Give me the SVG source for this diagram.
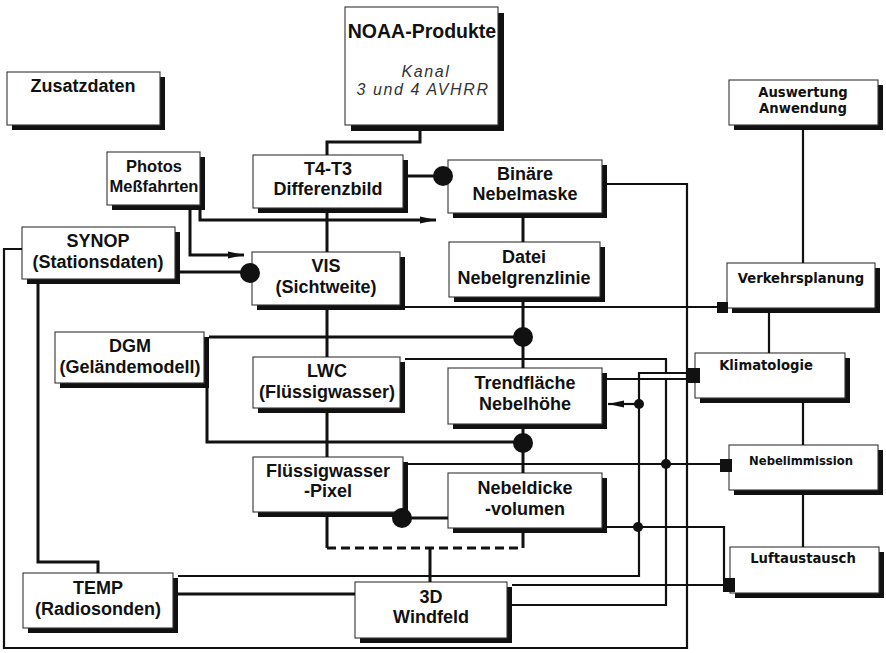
<svg xmlns="http://www.w3.org/2000/svg" width="886" height="653" viewBox="0 0 886 653">
  <style>
    .sh { fill: #111; }
    .bx { fill: #fff; stroke: #333; stroke-width: 1.1; }
    .m { font-family: "Liberation Sans", Arial, sans-serif; font-weight: bold; font-size: 18px; text-anchor: middle; fill: #111; }
    .big { font-size: 19.5px; }
    .sm { font-size: 16.5px; }
    .it { font-family: "Liberation Sans", Arial, sans-serif; font-style: italic; font-size: 16px; letter-spacing: 1.6px; text-anchor: middle; fill: #333; }
    .r { font-family: "DejaVu Sans", sans-serif; font-weight: bold; font-size: 13.2px; text-anchor: middle; fill: #111; }
    .c { fill: none; stroke: #111; stroke-width: 3; stroke-linejoin: miter; }
    .t { fill: none; stroke: #111; stroke-width: 2.2; }
    .d { fill: none; stroke: #111; stroke-width: 3; stroke-dasharray: 9 5; }
    .dot { fill: #111; }
  </style>
  <defs>
    <marker id="arr" markerUnits="userSpaceOnUse" markerWidth="18" markerHeight="10" refX="16" refY="5" orient="auto">
      <path d="M0,1.5 L16,5 L0,8.5 Z" fill="#111"/>
    </marker>
  </defs>

  <!-- nodes: black drop shadow + white box -->
  <g id="zusatzdaten">
    <rect class="sh" x="12" y="77" width="153" height="53"/>
    <rect class="bx" x="7" y="72" width="153" height="53"/>
    <text class="m" x="83" y="92">Zusatzdaten</text>
  </g>
  <g id="noaa">
    <rect class="sh" x="351" y="13" width="153" height="118"/>
    <rect class="bx" x="345" y="7" width="153" height="118"/>
    <text class="m big" x="422" y="38">NOAA-Produkte</text>
    <text class="it" x="426" y="77">Kanal</text>
    <text class="it" x="423" y="95">3 und 4 AVHRR</text>
  </g>
  <g id="photos">
    <rect class="sh" x="112" y="157" width="93" height="53"/>
    <rect class="bx" x="107" y="152" width="93" height="53"/>
    <text class="m sm" x="154" y="172">Photos</text>
    <text class="m sm" x="154" y="192">Meßfahrten</text>
  </g>
  <g id="t4t3">
    <rect class="sh" x="258" y="160" width="150" height="53"/>
    <rect class="bx" x="253" y="155" width="150" height="53"/>
    <text class="m" x="328" y="175">T4-T3</text>
    <text class="m" x="328" y="195">Differenzbild</text>
  </g>
  <g id="binaere">
    <rect class="sh" x="453" y="165" width="154" height="53"/>
    <rect class="bx" x="448" y="160" width="154" height="53"/>
    <text class="m" x="525" y="180">Binäre</text>
    <text class="m" x="525" y="200">Nebelmaske</text>
  </g>
  <g id="synop">
    <rect class="sh" x="27" y="232" width="153" height="52"/>
    <rect class="bx" x="22" y="227" width="153" height="52"/>
    <text class="m" x="98" y="247">SYNOP</text>
    <text class="m" x="98" y="268">(Stationsdaten)</text>
  </g>
  <g id="vis">
    <rect class="sh" x="257" y="257" width="148" height="53"/>
    <rect class="bx" x="252" y="252" width="148" height="53"/>
    <text class="m" x="326" y="272">VIS</text>
    <text class="m" x="326" y="293">(Sichtweite)</text>
  </g>
  <g id="datei">
    <rect class="sh" x="454" y="247" width="151" height="55"/>
    <rect class="bx" x="449" y="242" width="151" height="55"/>
    <text class="m" x="524" y="263">Datei</text>
    <text class="m" x="524" y="284">Nebelgrenzlinie</text>
  </g>
  <g id="dgm">
    <rect class="sh" x="60" y="337" width="149" height="51"/>
    <rect class="bx" x="55" y="332" width="149" height="51"/>
    <text class="m" x="130" y="352">DGM</text>
    <text class="m" x="130" y="373">(Geländemodell)</text>
  </g>
  <g id="lwc">
    <rect class="sh" x="258" y="362" width="147" height="51"/>
    <rect class="bx" x="253" y="357" width="147" height="51"/>
    <text class="m" x="327" y="377">LWC</text>
    <text class="m" x="327" y="398">(Flüssigwasser)</text>
  </g>
  <g id="trendflaeche">
    <rect class="sh" x="453" y="373" width="154" height="56"/>
    <rect class="bx" x="448" y="368" width="154" height="56"/>
    <text class="m" x="525" y="389">Trendfläche</text>
    <text class="m" x="525" y="410">Nebelhöhe</text>
  </g>
  <g id="fluessigwasser-pixel">
    <rect class="sh" x="258" y="462" width="150" height="55"/>
    <rect class="bx" x="253" y="457" width="150" height="55"/>
    <text class="m" x="328" y="477">Flüssigwasser</text>
    <text class="m" x="328" y="497">-Pixel</text>
  </g>
  <g id="nebeldicke">
    <rect class="sh" x="453" y="478" width="154" height="55"/>
    <rect class="bx" x="448" y="473" width="154" height="55"/>
    <text class="m" x="525" y="494">Nebeldicke</text>
    <text class="m" x="525" y="515">-volumen</text>
  </g>
  <g id="temp">
    <rect class="sh" x="28" y="578" width="150" height="55"/>
    <rect class="bx" x="23" y="573" width="150" height="55"/>
    <text class="m" x="98" y="594">TEMP</text>
    <text class="m" x="98" y="615">(Radiosonden)</text>
  </g>
  <g id="windfeld">
    <rect class="sh" x="360" y="587" width="152" height="56"/>
    <rect class="bx" x="355" y="582" width="152" height="56"/>
    <text class="m" x="431" y="603">3D</text>
    <text class="m" x="431" y="623">Windfeld</text>
  </g>
  <g id="auswertung">
    <rect class="sh" x="734" y="85" width="149" height="45"/>
    <rect class="bx" x="729" y="80" width="149" height="45"/>
    <text class="r" x="803" y="97">Auswertung</text>
    <text class="r" x="803" y="113">Anwendung</text>
  </g>
  <g id="verkehrsplanung">
    <rect class="sh" x="732" y="268" width="148" height="45"/>
    <rect class="bx" x="727" y="263" width="148" height="45"/>
    <text class="r" x="801" y="283">Verkehrsplanung</text>
  </g>
  <g id="klimatologie">
    <rect class="sh" x="700" y="358" width="150" height="45"/>
    <rect class="bx" x="695" y="353" width="150" height="45"/>
    <text class="r" x="766" y="370">Klimatologie</text>
  </g>
  <g id="nebelimmission">
    <rect class="sh" x="734" y="450" width="149" height="45"/>
    <rect class="bx" x="729" y="445" width="149" height="45"/>
    <text class="r" x="801" y="465" style="font-size:11.6px">Nebelimmission</text>
  </g>
  <g id="luftaustausch">
    <rect class="sh" x="735" y="552" width="149" height="46"/>
    <rect class="bx" x="730" y="547" width="149" height="46"/>
    <text class="r" x="803" y="563">Luftaustausch</text>
  </g>

  <!-- connectors -->
  <g id="connectors">
    <path class="c" d="M420,131 V142 H327 V155"/>
    <path class="c" d="M408,176 H443"/>
    <path class="c" d="M327,213 V252"/>
    <path class="c" d="M200,210 V220 H436" marker-end="url(#arr)"/>
    <path class="c" d="M190,210 V255 H244" marker-end="url(#arr)"/>
    <path class="c" d="M180,272 H250"/>
    <path class="c" d="M523,218 V242"/>
    <path class="c" d="M523,302 V368"/>
    <path class="c" d="M209,337 H523 M207,337 V442 H523"/>
    <path class="c" d="M327,310 V357"/>
    <path class="c" d="M327,413 V457"/>
    <path class="c" d="M523,429 V473"/>
    <path class="c" d="M408,518 H448"/>
    <path class="c" d="M327,517 V548 M523,548 V533 M430,548 V582"/>
    <path class="d" d="M327,548 H523"/>
    <path class="c" d="M178,594 H355"/>
    <path class="c" d="M38,284 V562 H98 V573"/>

    <path class="t" d="M405,359 H666 V373 H688"/>
    <path class="t" d="M178,576 H639 V373 H688"/>
    <path class="t" d="M512,605 H666 V379"/>
    <path class="t" d="M607,379 H688"/>
    <path class="t" d="M639,404 H608" marker-end="url(#arr)"/>
    <path class="t" d="M408,464 H720"/>
    <path class="t" d="M607,527 H724 V580"/>
    <path class="t" d="M512,585 H724"/>
    <path class="t" d="M405,307 H717"/>
    <path class="t" d="M607,184 H687 V648 H4 V249 H22"/>
    <path class="t" d="M803,130 V263 M769,313 V353 M803,403 V445 M803,495 V547"/>

    <circle class="dot" cx="443" cy="176" r="10"/>
    <circle class="dot" cx="250" cy="273" r="10"/>
    <circle class="dot" cx="523" cy="337" r="10"/>
    <circle class="dot" cx="523" cy="443" r="10"/>
    <circle class="dot" cx="402" cy="518" r="10"/>
    <circle class="dot" cx="639" cy="404" r="5"/>
    <circle class="dot" cx="666" cy="464" r="5"/>
    <circle class="dot" cx="638" cy="527" r="5"/>

    <rect class="dot" x="717" y="302" width="11" height="11"/>
    <rect class="dot" x="688" y="368" width="12" height="15"/>
    <rect class="dot" x="720" y="459" width="12" height="13"/>
    <rect class="dot" x="723" y="578" width="12" height="14"/>
  </g>
</svg>
